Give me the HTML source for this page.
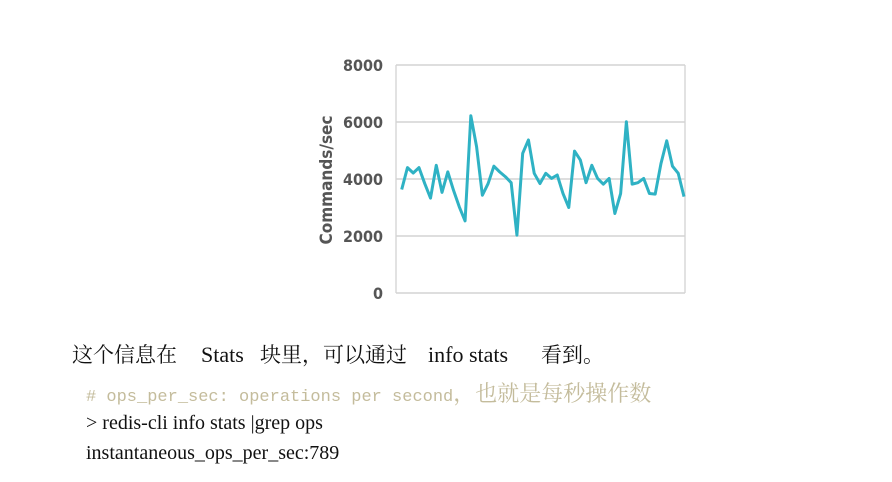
<!DOCTYPE html>
<html><head><meta charset="utf-8"><style>
body{margin:0;width:892px;height:482px;background:#fff;overflow:hidden;position:relative}
.t{position:absolute;white-space:pre;font-family:"Liberation Serif","Noto Serif CJK SC",serif;color:#111}
.d{line-height:28px;top:341px}
</style></head><body>
<svg width="892" height="320" style="position:absolute;left:0;top:0" id="chart"></svg>
<div style="position:absolute;left:0;top:0;width:892px;height:380px">
<span class="t d" style="left:72px;font-size:21px">这个信息在</span>
<span class="t d" style="left:201px;font-size:22px">Stats</span>
<span class="t d" style="left:260px;font-size:21px">块里，</span>
<span class="t d" style="left:323px;font-size:21px">可以通过</span>
<span class="t d" style="left:428px;font-size:22px">info stats</span>
<span class="t d" style="left:541px;font-size:21px">看到。</span>
</div>
<div class="t" style="left:86px;top:380px;line-height:26px;font-size:17px;font-family:'Liberation Mono','Noto Sans CJK SC',monospace;color:#c4bc9c"># ops_per_sec: operations per second<span style="font-family:'Noto Serif CJK SC',serif;font-size:22px;letter-spacing:0px">，也就是每秒操作数</span></div>
<div class="t" style="left:86px;top:412px;font-size:20px">&gt; redis-cli info stats |grep ops</div>
<div class="t" style="left:86px;top:442px;font-size:20px">instantaneous_ops_per_sec:789</div>
<script>
const values=[3630,4400,4210,4400,3840,3330,4480,3530,4250,3600,3020,2530,6220,5130,3430,3840,4450,4250,4080,3870,2030,4900,5370,4200,3840,4200,4020,4140,3490,3000,4980,4670,3870,4480,4020,3820,4020,2790,3490,6010,3820,3870,4020,3490,3470,4540,5340,4450,4200,3380];
const yTicks=[0,2000,4000,6000,8000];
const yTickLabels=["0","2000","4000","6000","8000"];
const svg=document.getElementById('chart');const NS='http://www.w3.org/2000/svg';
const X0=396,X1=685,Y0=293,Y1=65;
const y=v=>Y0-(v/8000)*(Y0-Y1);
const x=i=>401.7+i*(684-401.7)/(values.length-1);
function mk(t,a){const e=document.createElementNS(NS,t);for(const k in a)e.setAttribute(k,a[k]);svg.appendChild(e);return e;}
let e=mk('line',{x1:X0,y1:Y1,x2:X0,y2:Y0,stroke:'#d8d8d8','stroke-width':1.5});


e=mk('line',{x1:X1,y1:Y1,x2:X1,y2:Y0,stroke:'#d8d8d8','stroke-width':1.5});


yTicks.forEach((t,i)=>{
 const g=mk('line',{x1:X0,y1:y(t),x2:X1,y2:y(t),stroke:'#d4d4d4','stroke-width':1.5});
 
 
 const l=mk('text',{x:383,y:y(t)+6,'text-anchor':'end','font-size':16,'font-weight':'bold',fill:'#555','font-family':'DejaVu Sans Condensed,DejaVu Sans,sans-serif'});
 l.textContent=yTickLabels[i];
 
 
});
const ti=mk('text',{x:0,y:0,transform:'translate(332,180) rotate(-90)','text-anchor':'middle','font-size':17,'font-weight':'bold',fill:'#555','font-family':'DejaVu Sans Condensed,DejaVu Sans,sans-serif'});
ti.textContent='Commands/sec';


const p=mk('polyline',{points:values.map((v,i)=>x(i)+','+y(v)).join(' '),fill:'none',stroke:'#2fb2c4','stroke-width':3,'stroke-linejoin':'round'});


</script>
</body></html>
